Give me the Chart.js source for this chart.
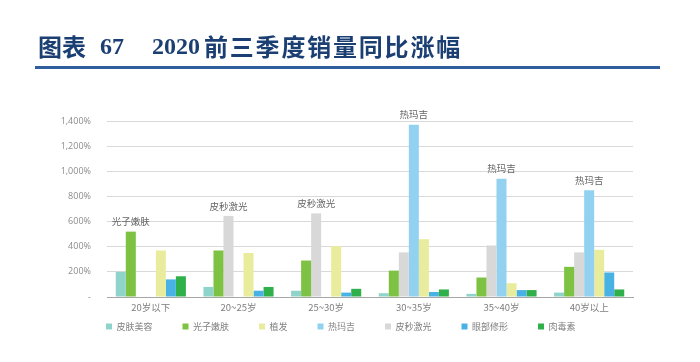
<!DOCTYPE html>
<html>
<head>
<meta charset="utf-8">
<script src="https://cdn.jsdelivr.net/npm/chart.js@4"></script>
<style>
  body { margin: 0; background: #fff; }
  #wrap { position: relative; width: 700px; height: 362px; }
  #wrap canvas { position: absolute; left: 0; top: 0; }
  .t { position: absolute; top: 34px; line-height: 24px; font-size: 24px; font-weight: bold; color: #1b3f73; white-space: nowrap; }
  .cjk { font-family: "Noto Sans CJK SC", sans-serif; }
  .num { font-family: "Liberation Serif", serif; }
  #rule { position: absolute; left: 35px; top: 66px; width: 625px; height: 3px; background: #2f5d9e; }
</style>
</head>
<body>
<div id="wrap">
  <canvas id="barChart" width="700" height="362"></canvas>
  <span class="t cjk" style="left:38px">图表</span>
  <span class="t num" style="left:100px">67</span>
  <span class="t num" style="left:152px">2020</span>
  <span class="t cjk" style="left:204px;letter-spacing:1.8px">前三季度销量同比涨幅</span>
  <div id="rule"></div>
</div>
<script>
// chart data
const categories = ["20岁以下", "20~25岁", "25~30岁", "30~35岁", "35~40岁", "40岁以上"];

const skinCare   = [200, 80, 50, 30, 25, 35];      // 皮肤美容
const photoRejuv = [520, 370, 290, 210, 155, 240]; // 光子嫩肤
const picoLaser  = [null, 645, 665, 355, 410, 355]; // 皮秒激光
const thermage   = [null, null, null, 1370, 940, 850]; // 热玛吉
const hairTrans  = [370, 350, 405, 460, 110, 375]; // 植发
const eyeShape   = [140, 50, 35, 40, 55, 195];     // 眼部修形
const botox      = [165, 80, 65, 60, 55, 60];      // 肉毒素

const yTicks = [0, 200, 400, 600, 800, 1000, 1200, 1400];

// legend shows the series in a different order than the bars
const legendOrder = ["皮肤美容", "光子嫩肤", "植发", "热玛吉", "皮秒激光", "眼部修形", "肉毒素"];

const series = [
  { label: "皮肤美容", data: skinCare,   color: "#8ed4ca" },
  { label: "光子嫩肤", data: photoRejuv, color: "#7dc242" },
  { label: "皮秒激光", data: picoLaser,  color: "#d8d8d8" },
  { label: "热玛吉",   data: thermage,   color: "#92d2f0" },
  { label: "植发",     data: hairTrans,  color: "#e9ec9c" },
  { label: "眼部修形", data: eyeShape,   color: "#49b2e5" },
  { label: "肉毒素",   data: botox,      color: "#30b04a" }
];

// name of the top series written above each group
const topLabels = {
  id: "topLabels",
  afterDatasetsDraw(chart) {
    const ctx = chart.ctx;
    ctx.save();
    ctx.font = '9.5px "Noto Sans CJK SC"';
    ctx.fillStyle = "#666666";
    ctx.textAlign = "center";
    ctx.textBaseline = "middle";
    categories.forEach((c, j) => {
      let best = -1, bestVal = -Infinity;
      chart.data.datasets.forEach((ds, i) => {
        const v = ds.data[j];
        if (v != null && v > bestVal) { bestVal = v; best = i; }
      });
      const el = chart.getDatasetMeta(best).data[j];
      ctx.fillText(chart.data.datasets[best].label, el.x, el.y - 10);
    });
    ctx.restore();
  }
};

// move the legend up under the axis labels and in line with the plot
const legendShift = {
  id: "legendShift",
  afterLayout(chart) {
    chart.legend.top -= 20;
    chart.legend.bottom -= 20;
    chart.legend.left += 21;
    chart.legend.right += 21;
  }
};

const ctx = document.getElementById("barChart").getContext("2d");

new Chart(ctx, {
  type: "bar",
  data: {
    labels: categories,
    datasets: series.map(s => ({
      label: s.label,
      data: s.data,
      backgroundColor: s.color,
      borderWidth: 0
    }))
  },
  options: {
    responsive: false,
    animation: false,
    layout: { padding: { top: 121, left: 55, right: 67, bottom: 1 } },
    datasets: { bar: { categoryPercentage: 0.8, barPercentage: 1.0 } },
    scales: {
      x: {
        grid: { display: false, drawTicks: false },
        border: { color: "#a6a6a6", width: 1 },
        ticks: { color: "#7f7f7f", padding: 5, font: { family: "Noto Sans CJK SC", size: 9.5 } },
        afterFit: scale => { scale.height = 15; }
      },
      y: {
        min: 0,
        max: 1400,
        afterBuildTicks: scale => { scale.ticks = yTicks.map(v => ({ value: v })); },
        grid: { color: "#d9d9d9", lineWidth: 1, drawTicks: false },
        border: { display: false },
        ticks: {
          color: "#8c8c8c",
          padding: 16,
          font: { family: "Open Sans", size: 9 },
          callback: v => v === 0 ? "-" : v.toLocaleString("en-US") + "%"
        },
        afterFit: scale => { scale.width = 52; }
      }
    },
    plugins: {
      tooltip: { enabled: false },
      legend: {
        position: "bottom",
        align: "start",
        labels: {
          boxWidth: 6,
          boxHeight: 6,
          padding: 30,
          color: "#7f7f7f",
          font: { family: "Noto Sans CJK SC", size: 9 },
          sort: (a, b) => legendOrder.indexOf(a.text) - legendOrder.indexOf(b.text)
        }
      }
    }
  },
  plugins: [topLabels, legendShift]
});
</script>
</body>
</html>
